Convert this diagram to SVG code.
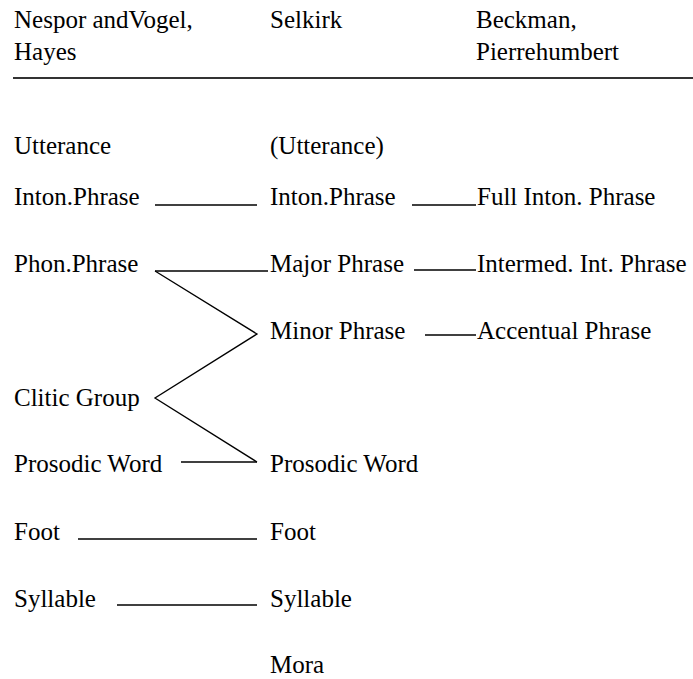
<svg xmlns="http://www.w3.org/2000/svg" width="693" height="679" viewBox="0 0 693 679">
  <style>
    .link { stroke: #000; stroke-width: 1.3; fill: none; }
    .rule { stroke: #333; stroke-width: 1.8; }
  </style>
  <rect width="693" height="679" fill="#fff"/>

  <g font-family="'Liberation Serif', 'DejaVu Serif', serif" font-size="25" fill="#000">
    <!-- column headings -->
    <g id="header">
      <text x="14" y="28">Nespor andVogel,</text>
      <text x="14" y="60">Hayes</text>
      <text x="270" y="28">Selkirk</text>
      <text x="476" y="28">Beckman,</text>
      <text x="476" y="60">Pierrehumbert</text>
      <line class="rule" x1="13" y1="78" x2="693" y2="78"/>
    </g>

    <!-- Nespor & Vogel / Hayes hierarchy -->
    <g id="nv-utterance"><text x="14" y="154">Utterance</text></g>
    <g id="nv-inton"><text x="14" y="205">Inton.Phrase</text></g>
    <g id="nv-phon"><text x="14" y="272">Phon.Phrase</text></g>
    <g id="nv-clitic"><text x="14" y="406">Clitic Group</text></g>
    <g id="nv-pword"><text x="14" y="472">Prosodic Word</text></g>
    <g id="nv-foot"><text x="14" y="540">Foot</text></g>
    <g id="nv-syllable"><text x="14" y="607">Syllable</text></g>

    <!-- Selkirk hierarchy -->
    <g id="sk-utterance"><text x="270" y="154">(Utterance)</text></g>
    <g id="sk-inton"><text x="270" y="205">Inton.Phrase</text></g>
    <g id="sk-major"><text x="270" y="272">Major Phrase</text></g>
    <g id="sk-minor"><text x="270" y="339">Minor Phrase</text></g>
    <g id="sk-pword"><text x="270" y="472">Prosodic Word</text></g>
    <g id="sk-foot"><text x="270" y="540">Foot</text></g>
    <g id="sk-syllable"><text x="270" y="607">Syllable</text></g>
    <g id="sk-mora"><text x="270" y="673">Mora</text></g>

    <!-- Beckman & Pierrehumbert hierarchy -->
    <g id="bp-full"><text x="477" y="205">Full Inton. Phrase</text></g>
    <g id="bp-intermed"><text x="477" y="272">Intermed. Int. Phrase</text></g>
    <g id="bp-accentual"><text x="477" y="339">Accentual Phrase</text></g>
  </g>

  <!-- correspondences between levels -->
  <g id="connectors">
    <line class="link" x1="155" y1="205" x2="257" y2="205"/>
    <line class="link" x1="155" y1="271" x2="268" y2="271"/>
    <polyline class="link" points="155,271 257,334 155,398 257,462"/>
    <line class="link" x1="181" y1="462" x2="257" y2="462"/>
    <line class="link" x1="78" y1="539" x2="257" y2="539"/>
    <line class="link" x1="117" y1="605" x2="257" y2="605"/>
    <line class="link" x1="412" y1="205" x2="476" y2="205"/>
    <line class="link" x1="414" y1="270" x2="476" y2="270"/>
    <line class="link" x1="425" y1="335" x2="476" y2="335"/>
  </g>
</svg>
